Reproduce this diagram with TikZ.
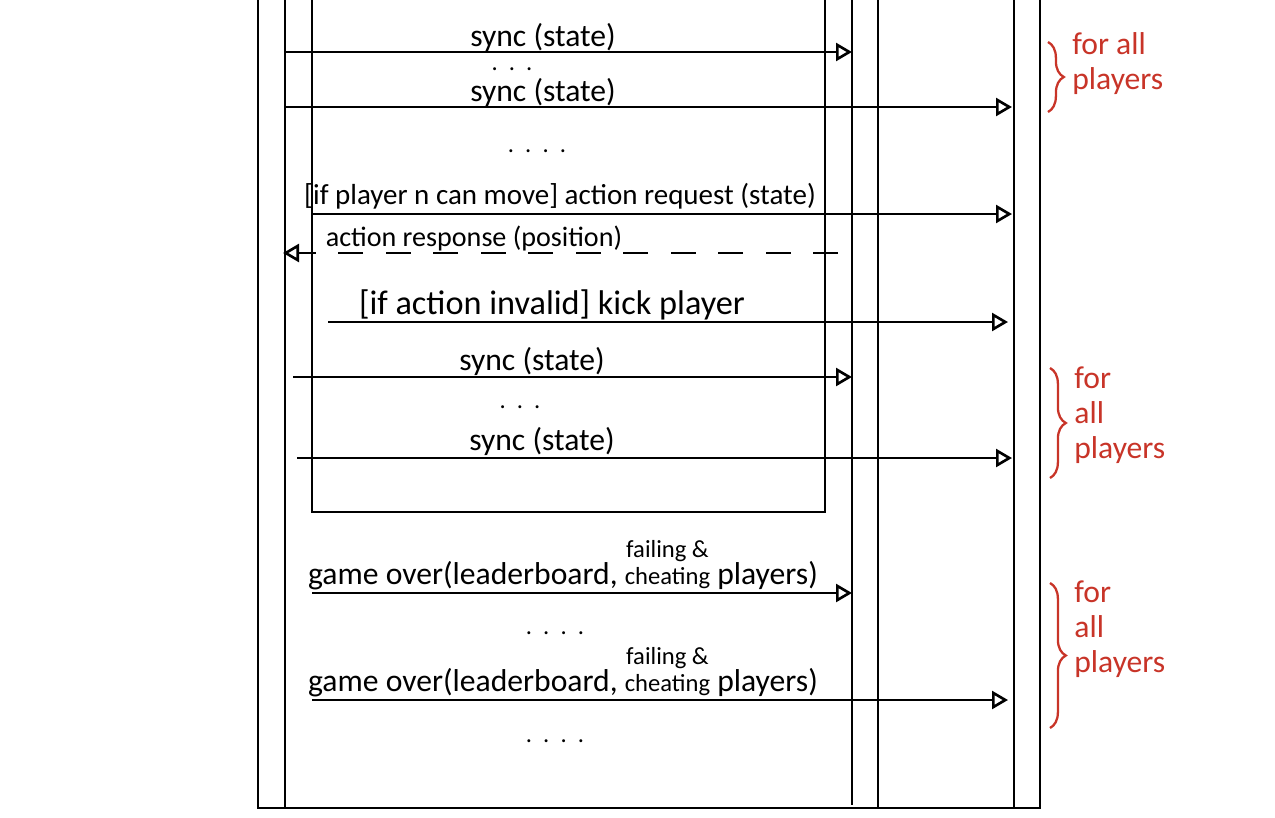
\documentclass[tikz,border=0pt]{standalone}
\usepackage{fontspec}
\setmainfont{Carlito}
\usepackage{tikz}
\usetikzlibrary{arrows.meta}
\usetikzlibrary{decorations.pathreplacing}
\usetikzlibrary{positioning}
\newcommand{\msg}[5][msg]{\coordinate (#2s) at (#3,#5); \coordinate (#2e) at (#4,#5); \draw[#1] (#2s) -- (#2e);}
\newcommand{\allplayers}[4]{\coordinate (#1a) at (#2,#3); \coordinate (#1b) at (#2,#4); \draw[curly] (#1a) -- (#1b);}
\tikzstyle{lifeline} = [line width=1.6pt, draw=black]
\tikzstyle{msg} = [line width=1.3pt, -{Triangle[open, length=0.32cm, width=0.36cm, line width=1.5pt]}]
\tikzstyle{reply} = [msg, dash pattern=on 0.5cm off 0.45cm]
\tikzstyle{msgtext} = [anchor=base, inner sep=0pt, font=\fontsize{18}{20}\selectfont]
\tikzstyle{gap} = [anchor=base, inner sep=0pt, font=\fontsize{14}{14}\selectfont]
\tikzstyle{curly} = [draw=pen, line width=1.3pt, decorate, decoration={brace, amplitude=9pt}]
\tikzstyle{forwho} = [text=pen, anchor=north west, inner sep=0pt, align=left, font=\fontsize{18}{20}\selectfont]
\newcommand{\stack}{\shortstack{\fontsize{14}{13}\selectfont failing \&\\\fontsize{14}{13}\selectfont cheating}}
\definecolor{pen}{RGB}{200,52,40}

\begin{document}
\begin{tikzpicture}[x=0.02cm, y=-0.02cm]
	\useasboundingbox (0,0) rectangle (1275,818);
	% lifelines and frames
	\draw[lifeline] (258,0) -- (258,808) -- (1040,808) -- (1040,0);
	\draw[lifeline] (285,0) -- (285,808);
	\draw[lifeline] (312,0) -- (312,512) -- (825,512) -- (825,0);
	\draw[lifeline] (852,0) -- (852,805);
	\draw[lifeline] (878,0) -- (878,808);
	\draw[lifeline] (1014,0) -- (1014,808);

	% loop body
	\msg{syncobs}{285}{852}{52}
	\node[msgtext] (syncobstext) at (543,46) {sync (state)};
	\node[gap] (dotsa) at (512,71) {.\ \ .\ \ .};
	\msg{syncplr}{285}{1012}{107}
	\node[msgtext] (syncplrtext) at (543,101) {sync (state)};
	\node[gap] (dotsb) at (537,152) {.\ \ .\ \ .\ \ .};
	\msg{request}{312}{1012}{214}
	\node[msgtext, font=\fontsize{16.5}{20}\selectfont] (requesttext) at (560,204) {[if player n can move] action request (state)};
	\msg[reply]{response}{838}{283}{253}
	\node[msgtext, font=\fontsize{16}{20}\selectfont] (responsetext) at (474,246) {action response (position)};
	\msg{kick}{328}{1008}{322}
	\node[msgtext, font=\fontsize{19.5}{20}\selectfont] (kicktext) at (552,314) {[if action invalid] kick player};
	\msg{resyncobs}{293}{852}{377}
	\node[msgtext] (resyncobstext) at (532,370) {sync (state)};
	\node[gap] (dotsc) at (520,408) {.\ \ .\ \ .};
	\msg{resyncplr}{297}{1012}{458}
	\node[msgtext] (resyncplrtext) at (542,450) {sync (state)};

	% end of game
	\msg{overobs}{312}{852}{593}
	\node[msgtext] (overobstext) at (563,584) {game over(leaderboard, \stack\ players)};
	\node[gap] (dotsd) at (555,634) {.\ \ .\ \ .\ \ .};
	\msg{overplr}{312}{1008}{700}
	\node[msgtext] (overplrtext) at (563,691) {game over(leaderboard, \stack\ players)};
	\node[gap] (dotse) at (555,742) {.\ \ .\ \ .\ \ .};

	% notes
	\allplayers{first}{1048}{42}{112}
	\node[forwho] (firstnote) at (1072,32) {for all\\players};
	\allplayers{second}{1050}{368}{478}
	\node[forwho] (secondnote) at (1074,366) {for\\all\\players};
	\allplayers{third}{1050}{583}{728}
	\node[forwho] (thirdnote) at (1074,580) {for\\all\\players};
\end{tikzpicture}
\end{document}
